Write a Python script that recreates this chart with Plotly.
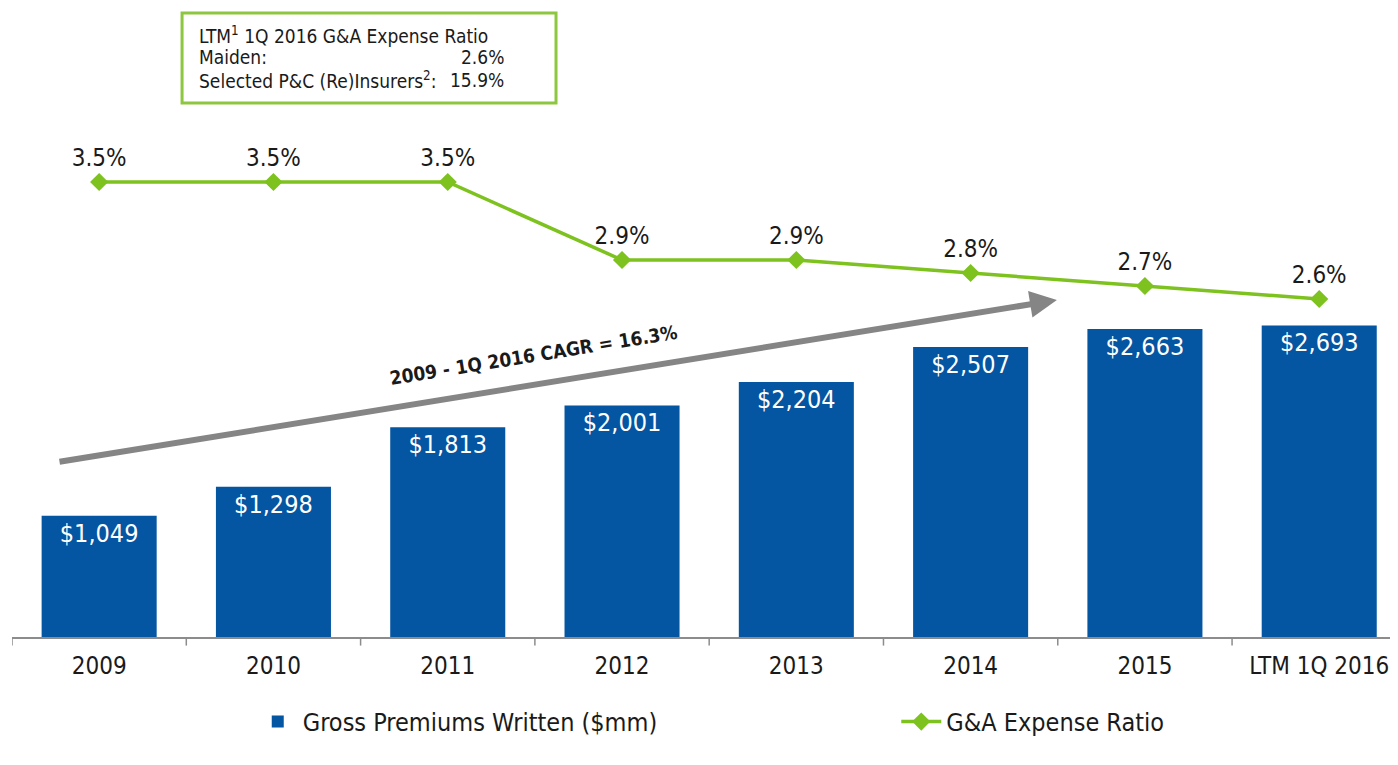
import plotly.graph_objects as go

categories = ["2009", "2010", "2011", "2012", "2013", "2014", "2015", "LTM 1Q 2016"]
gpw = [1049, 1298, 1813, 2001, 2204, 2507, 2663, 2693]
ga_ratio = [3.5, 3.5, 3.5, 2.9, 2.9, 2.8, 2.7, 2.6]
bar_labels = ["$" + f"{v:,}" for v in gpw]
ratio_labels = [f"{v:.1f}%" for v in ga_ratio]

box_lines = ["LTM<sup>1</sup> 1Q 2016 G&A Expense Ratio", "Maiden:", "Selected P&C (Re)Insurers<sup>2</sup>:"]
box_values = ["", "2.6%", "15.9%"]
cagr_text = "2009 - 1Q 2016 CAGR = 16.3%"

FONT = "DejaVu Sans Condensed, DejaVu Sans, sans-serif"
BLUE = "#0455A2"
GREEN = "#7DC21E"
TXT = "#1a1a1a"

x_idx = list(range(len(categories)))

fig = go.Figure()
fig.add_trace(go.Bar(
    x=x_idx, y=gpw, name="Gross Premiums Written ($mm)",
    marker=dict(color=BLUE, line=dict(width=0)), width=0.66,
    text=bar_labels, textposition="inside", insidetextanchor="end",
    textfont=dict(color="white", size=25, family=FONT), textangle=0,
    hoverinfo="skip", yaxis="y", legend="legend"
))
fig.add_trace(go.Scatter(
    x=x_idx, y=ga_ratio, name="G&A Expense Ratio", mode="lines+markers+text",
    line=dict(color=GREEN, width=3.5), marker=dict(symbol="diamond", size=14, color=GREEN),
    text=ratio_labels, textposition="top center",
    textfont=dict(color=TXT, size=24, family=FONT),
    hoverinfo="skip", yaxis="y2", cliponaxis=False, legend="legend2"
))

H = 537
fig.update_layout(
    width=1390, height=757,
    margin=dict(l=4, r=0, t=92, b=128),
    plot_bgcolor="white", paper_bgcolor="white",
    font=dict(family=FONT, color=TXT),
    showlegend=True,
    legend=dict(orientation="h", x=0.1737, xanchor="left", y=-0.158, yanchor="middle",
                font=dict(size=25, family=FONT, color=TXT), itemwidth=40),
    legend2=dict(orientation="h", x=0.638, xanchor="left", y=-0.158, yanchor="middle",
                 font=dict(size=25, family=FONT, color=TXT), itemwidth=40),
    xaxis=dict(tickmode="array", tickvals=x_idx, ticktext=categories, range=[-0.5, 7.452],
               showline=True, linecolor="#8c8c8c", linewidth=1.5, ticks="", showgrid=False,
               zeroline=False, tickfont=dict(size=24, family=FONT, color=TXT),
               ticklabelstandoff=6),
    yaxis=dict(range=[0, H / 0.1157], visible=False, showgrid=False, zeroline=False),
    yaxis2=dict(range=[0, H / 130.0], overlaying="y", visible=False, showgrid=False, zeroline=False),
)

# tick marks at category boundaries
for b in [i - 0.5 for i in range(len(categories) + 1)]:
    fig.add_shape(type="line", xref="x", yref="paper", x0=b, x1=b, y0=0, y1=-0.016,
                  line=dict(color="#8c8c8c", width=1.5))

# CAGR arrow
fig.add_annotation(x=5.495, y=2913, ax=-0.236, ay=1512, xref="x", yref="y", axref="x", ayref="y",
                   showarrow=True, arrowhead=2, arrowsize=0.9, arrowwidth=6, arrowcolor="#858585", text="")
fig.add_annotation(x=2.49, y=2440, xref="x", yref="y", text="<b>" + cagr_text + "</b>",
                   showarrow=False, textangle=-9.2, font=dict(size=19, family=FONT, color=TXT))

# Info box
fig.add_shape(type="rect", xref="paper", yref="paper", x0=0.1227, x1=0.3925, y0=0.9944, y1=1.162,
              line=dict(color="#8DC63F", width=3), fillcolor="white")
line_px = [35, 57, 80]
for txt, val, py in zip(box_lines, box_values, line_px):
    yp = (637 - py) / 537
    fig.add_annotation(xref="paper", yref="paper", x=(197 - 12) / 1386, y=yp, xanchor="left",
                       yanchor="middle", showarrow=False, text=txt,
                       font=dict(size=19, family=FONT, color=TXT))
    if val:
        fig.add_annotation(xref="paper", yref="paper", x=(506 - 12) / 1386, y=yp, xanchor="right",
                           yanchor="middle", showarrow=False, text=val,
                           font=dict(size=19, family=FONT, color=TXT))

fig.write_html("out.html")
